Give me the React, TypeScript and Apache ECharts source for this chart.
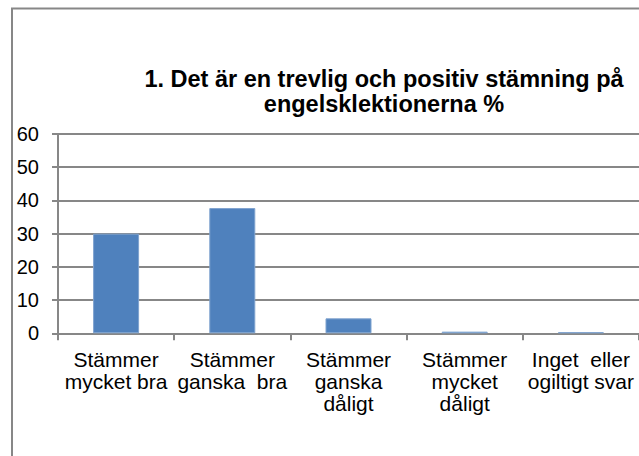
import React, { useEffect, useRef } from "react";
import * as echarts from "echarts";

const categories = [
  "Stämmer\nmycket bra",
  "Stämmer\nganska  bra",
  "Stämmer\nganska\ndåligt",
  "Stämmer\nmycket\ndåligt",
  "Inget  eller\nogiltigt svar",
];
const values = [30, 37.7, 4.5, 0.5, 0.35];
const yTicks = { min: 0, max: 60, interval: 10 };
const titleText = "1. Det är en trevlig och positiv stämning på\nengelsklektionerna %";

export default function App() {
  const ref = useRef<HTMLDivElement>(null);
  useEffect(() => {
    if (!ref.current) return;
    const chart = echarts.init(ref.current, null, { renderer: "svg" });
    const gray = "#878787";
    const ff = "Arial, 'Liberation Sans', sans-serif";
    chart.setOption({
      animation: false,
      backgroundColor: "#ffffff",
      textStyle: { fontFamily: ff },
      graphic: [
        {
          type: "rect",
          shape: { x: 12, y: 8.5, width: 800, height: 600 },
          style: { fill: "none", stroke: gray, lineWidth: 2 },
          silent: true,
          z: 0,
        },
        {
          type: "text",
          x: 384,
          y: 66,
          style: {
            text: titleText,
            textAlign: "center",
            textVerticalAlign: "top",
            fontFamily: ff,
            fontWeight: "bold",
            fontSize: 23.5,
            lineHeight: 25,
            fill: "#000",
          },
          z: 10,
        },
      ],
      grid: { left: 58, top: 134, width: 583.3, height: 199.3, containLabel: false },
      xAxis: {
        type: "category",
        data: categories,
        boundaryGap: true,
        axisLine: { show: true, lineStyle: { color: gray, width: 2 } },
        axisTick: { show: true, length: 7, alignWithLabel: false, interval: 0, lineStyle: { color: gray, width: 2 } },
        axisLabel: {
          interval: 0,
          hideOverlap: false,
          margin: 15,
          color: "#000",
          fontSize: 21,
          lineHeight: 22,
          fontFamily: ff,
          align: "center",
        },
        splitLine: { show: false },
      },
      yAxis: {
        type: "value",
        min: yTicks.min,
        max: yTicks.max,
        interval: yTicks.interval,
        axisLine: { show: true, lineStyle: { color: gray, width: 2 } },
        axisTick: { show: true, length: 6, lineStyle: { color: gray, width: 2 } },
        axisLabel: {
          margin: 19,
          color: "#000",
          fontSize: 20,
          fontFamily: ff,
        },
        splitLine: { show: true, lineStyle: { color: gray, width: 2 } },
      },
      series: [
        {
          type: "bar",
          data: values,
          barWidth: 46,
          itemStyle: { color: "#4F81BD", borderColor: "#7FA3CF", borderWidth: 1 },
        },
      ],
    });
    return () => chart.dispose();
  }, []);
  return (
    <div
      ref={ref}
      style={{ position: "fixed", left: 0, top: 0, width: 639, height: 456, background: "#fff" }}
    />
  );
}
